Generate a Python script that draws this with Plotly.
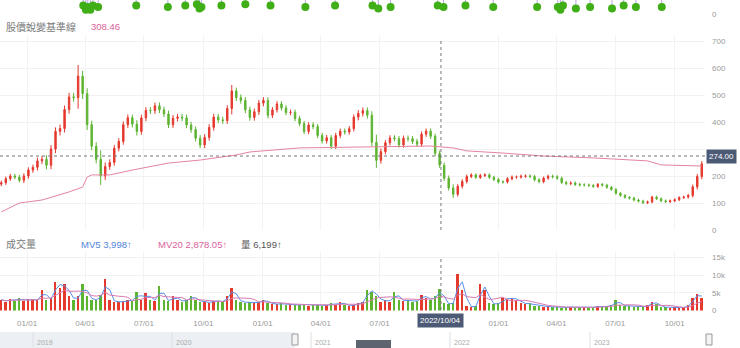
import pandas as pd
import numpy as np
import plotly.graph_objects as go

W, H = 740, 348
FONT = "Liberation Sans, Noto Sans CJK TC, sans-serif"

# ---------------- data ----------------
dates = pd.date_range("2020-11-22", periods=156, freq="7D")

close = [175, 190, 200, 196, 184, 200, 222, 232, 256, 262,
         240, 300, 365, 376, 446, 493, 490, 570, 505, 390,
         310, 262, 200, 235, 250, 303, 328, 390, 416, 392,
         365, 415, 443, 442, 460, 445, 430, 390, 414, 418,
         415, 389, 372, 340, 315, 343, 380, 418, 408, 405,
         450, 515, 490, 480, 445, 417, 438, 470, 480, 425,
         445, 467, 452, 435, 436, 413, 394, 365, 389, 383,
         350, 330, 342, 310, 350, 366, 363, 375, 418, 432,
         442, 425, 325, 258, 290, 323, 341, 338, 315, 340,
         338, 328, 318, 355, 366, 347, 284, 240, 192, 156,
         132, 162, 180, 198, 204, 195, 202, 204, 195, 187,
         178, 178, 190, 196, 196, 199, 200, 198, 186, 179,
         192, 199, 197, 192, 176, 172, 174, 169, 167, 167,
         165, 161, 169, 166, 158, 150, 136, 128, 121, 118,
         111, 107, 101, 104, 122, 116, 108, 105, 108, 112,
         120, 122, 128, 160, 198, 245]
first_open = 170

# estimated shadow length beyond the body, per week
wick = [8, 8, 8, 8, 8, 10, 10, 10, 12, 12,
        15, 15, 15, 15, 15, 15, 15, 41, 20, 20,
        15, 15, 33, 15, 12, 12, 12, 12, 12, 12,
        15, 12, 12, 12, 12, 12, 12, 12, 12, 12,
        12, 12, 12, 12, 12, 12, 12, 12, 12, 12,
        12, 22, 12, 12, 12, 12, 12, 12, 12, 12,
        10, 10, 10, 10, 10, 10, 10, 10, 10, 10,
        10, 10, 10, 10, 10, 10, 10, 10, 10, 12,
        12, 12, 15, 28, 12, 10, 10, 10, 10, 10,
        10, 10, 10, 10, 10, 10, 10, 10, 10, 10,
        13, 8, 8, 8, 6, 6, 6, 6, 6, 6,
        6, 6, 6, 6, 6, 6, 6, 6, 6, 6,
        6, 6, 6, 6, 6, 6, 6, 6, 6, 6,
        5, 5, 5, 5, 5, 5, 5, 5, 5, 5,
        5, 5, 5, 5, 5, 5, 5, 5, 5, 5,
        5, 5, 6, 8, 10, 10]

volume_k = [3.0, 2.5, 3.2, 2.8, 3.5, 2.6, 3.3, 2.9, 3.0, 5.9,
            3.0, 3.5, 8.2, 6.5, 7.4, 4.0, 3.0, 4.0, 7.4, 4.0,
            3.0, 3.0, 4.5, 8.8, 3.0, 2.5, 2.4, 2.6, 3.0, 2.8,
            5.3, 3.0, 5.0, 3.0, 2.8, 6.8, 3.0, 2.6, 4.0, 3.0,
            2.5, 3.0, 4.2, 3.0, 2.5, 2.4, 2.2, 2.8, 2.6, 2.5,
            4.0, 6.5, 3.0, 2.5, 2.2, 2.4, 2.0, 2.5, 3.0, 2.2,
            1.8, 1.8, 2.0, 1.6, 1.8, 1.5, 1.6, 1.8, 1.4, 1.5,
            1.6, 1.4, 1.5, 2.0, 1.6, 2.5, 1.5, 1.4, 1.6, 2.0,
            2.5, 5.9, 5.3, 4.0, 2.5, 3.0, 2.5, 5.3, 3.0, 2.8,
            3.0, 2.5, 2.8, 4.4, 3.5, 3.0, 4.0, 6.2, 2.0, 1.8,
            2.2, 10.3, 5.9, 1.2, 1.0, 1.3, 7.4, 5.9, 2.0, 1.8,
            2.0, 3.5, 3.2, 3.6, 3.0, 2.2, 1.8, 2.0, 1.4, 1.3,
            1.0, 1.2, 0.9, 1.0, 0.8, 1.0, 0.9, 0.8, 1.0, 0.9,
            0.8, 1.0, 1.2, 1.0, 1.3, 1.5, 2.9, 1.5, 1.2, 1.4,
            1.0, 1.2, 1.0, 1.5, 2.5, 1.8, 1.0, 0.9, 0.8, 0.9,
            0.8, 0.9, 1.5, 3.6, 4.8, 3.4]

# 股價蛻變基準線 (read at selected weeks)
base_idx = [0, 4, 9, 13, 15, 18, 19, 20, 24, 29, 37, 44, 52, 55, 66, 78,
            89, 95, 100, 103, 111, 120, 131, 143, 146, 155]
base_val = [67, 100, 111, 130, 141, 159, 196, 204, 204, 222, 248, 259, 278,
            289, 304, 307, 311, 311, 304, 293, 285, 274, 267, 256, 241, 237]

# signal dots of the panel above (cut off)
top_dates = ["2021-03-29", "2021-04-02", "2021-04-05", "2021-04-09", "2021-04-13",
             "2021-04-21", "2021-06-19", "2021-08-07", "2021-09-03", "2021-09-21",
             "2021-09-25", "2021-09-28", "2021-10-29", "2021-12-05", "2022-01-13",
             "2022-03-08", "2022-04-23", "2022-06-20", "2022-06-29", "2022-07-18",
             "2022-09-29", "2022-10-08", "2022-11-11", "2022-12-24", "2023-03-02",
             "2023-04-03", "2023-04-07", "2023-04-11", "2023-05-01", "2023-05-23",
             "2023-06-26", "2023-07-14", "2023-08-02", "2023-09-11"]
top_vals = [6, 3, 5, 3, 6, 5, 6, 5, 6, 7, 4, 5, 6, 7, 6,
            5, 6, 6, 4, 5, 6, 5, 6, 5, 5, 5, 3, 6, 4, 5,
            4, 6, 5, 5]

hover_date = "2022-10-04"
hover_price = 274.00
base_now = "308.46"
mv5_txt, mv20_txt, vol_txt = "3,998", "2,878.05", "6,199"

price_ticks = [0, 100, 200, 300, 400, 500, 600, 700]
vol_ticks = [0, 5000, 10000, 15000]
vol_ticktext = ["0", "5k", "10k", "15k"]
nav_years = ["2019", "2020", "2021", "2022", "2023"]

# ---------------- derived ----------------
open_ = [first_open] + close[:-1]
high = [max(o, c) + w for o, c, w in zip(open_, close, wick)]
low = [min(o, c) - w for o, c, w in zip(open_, close, wick)]
volume = [v * 1000 for v in volume_k]
vs = pd.Series(volume)
mv5 = vs.rolling(2, min_periods=1).mean()
mv20 = vs.rolling(6, min_periods=1).mean()

RED = "#e5392e"
GREEN = "#5db431"
vcolors = [RED if c >= o else GREEN for o, c in zip(open_, close)]

# quarter ticks; the one under the hover date label is covered there
qt = pd.date_range("2021-01-01", "2023-10-01", freq="QS")
hd = pd.Timestamp(hover_date)
x_tickvals = [d for d in qt if abs((d - hd).days) > 20]
price_ticktext = ["" if abs(t - hover_price) < 30 else str(t) for t in price_ticks]


def px(x):
    return x / W


def py(y):
    return 1 - y / H


XR = ["2020-11-20", "2023-11-17"]
XD = [0, px(705)]

fig = go.Figure()
fig.add_trace(go.Candlestick(
    x=dates, open=open_, high=high, low=low, close=close,
    increasing=dict(fillcolor=RED, line=dict(color=RED, width=1)),
    decreasing=dict(fillcolor=GREEN, line=dict(color=GREEN, width=1)),
    whiskerwidth=0, xaxis="x", yaxis="y", hoverinfo="skip"))
fig.add_trace(go.Scatter(
    x=dates[base_idx], y=base_val, mode="lines",
    line=dict(color="#e3849f", width=1), xaxis="x", yaxis="y", hoverinfo="skip"))
fig.add_trace(go.Bar(
    x=dates, y=volume, marker=dict(color=vcolors, line=dict(width=0)),
    width=3 * 86400000, xaxis="x2", yaxis="y2", hoverinfo="skip"))
fig.add_trace(go.Scatter(
    x=dates, y=mv5, mode="lines", line=dict(color="#5b8ee6", width=1),
    xaxis="x2", yaxis="y2", hoverinfo="skip"))
fig.add_trace(go.Scatter(
    x=dates, y=mv20, mode="lines", line=dict(color="#d97bb0", width=1),
    xaxis="x2", yaxis="y2", hoverinfo="skip"))
fig.add_trace(go.Scatter(
    x=top_dates, y=top_vals, mode="markers",
    marker=dict(color="#3fae17", size=8, line=dict(width=0)),
    error_y=dict(type="constant", value=12, symmetric=False, valueminus=0,
                 color="#b9a8e6", thickness=1, width=0),
    xaxis="x3", yaxis="y3", hoverinfo="skip"))

tickfont = dict(size=8, color="#9a9a9a", family=FONT)
fig.update_layout(
    width=W, height=H, margin=dict(l=0, r=0, t=0, b=0, pad=0), autosize=False,
    paper_bgcolor="white", plot_bgcolor="white", showlegend=False,
    font=dict(family=FONT), bargap=0, boxgap=0.55,
    xaxis=dict(domain=XD, range=XR, type="date", anchor="y",
               tickvals=x_tickvals, showticklabels=False, automargin=False,
               showgrid=True, gridcolor="#f3f3f3", zeroline=False,
               rangeslider=dict(visible=False), fixedrange=True),
    xaxis2=dict(domain=XD, range=XR, type="date", anchor="y2", matches="x",
                tickvals=x_tickvals, tickformat="%m/%d", automargin=False,
                showticklabels=True, tickfont=tickfont, ticks="",
                ticklabelstandoff=6,
                showgrid=True, gridcolor="#f3f3f3", zeroline=False, fixedrange=True),
    xaxis3=dict(domain=XD, range=XR, type="date", anchor="y3", matches="x",
                automargin=False,
                showticklabels=False, showgrid=False, zeroline=False, fixedrange=True),
    yaxis=dict(domain=[py(230), py(35)], range=[0, (230 - 35) / 0.27],
               side="right", anchor="x", tickvals=price_ticks, ticktext=price_ticktext,
               tickfont=tickfont, automargin=False,
               ticks="", ticklabelstandoff=6, showgrid=True, gridcolor="#f1f1f1",
               zeroline=False, fixedrange=True),
    yaxis2=dict(domain=[py(310.5), py(252)], range=[0, (310.5 - 252) / 3.533 * 1000],
                side="right", anchor="x2", tickvals=vol_ticks, ticktext=vol_ticktext,
                tickfont=tickfont, ticks="", ticklabelstandoff=6, automargin=False,
                showgrid=True, gridcolor="#f1f1f1", zeroline=False, fixedrange=True),
    yaxis3=dict(domain=[py(14), 1], range=[0, 10], side="right", anchor="x3",
                tickvals=[0], ticktext=["0"], tickfont=tickfont, ticks="",
                automargin=False,
                ticklabelstandoff=6, showgrid=False, zeroline=False, fixedrange=True),
)

shapes = []
# crosshair
shapes.append(dict(type="line", xref="paper", yref="y", x0=0, x1=px(705),
                   y0=hover_price, y1=hover_price,
                   line=dict(color="#777", width=1, dash="dot")))
shapes.append(dict(type="line", xref="x", yref="paper", x0=hover_date, x1=hover_date,
                   y0=py(230), y1=py(40), line=dict(color="#777", width=1, dash="dot")))
shapes.append(dict(type="line", xref="x", yref="paper", x0=hover_date, x1=hover_date,
                   y0=py(310), y1=py(256), line=dict(color="#777", width=1, dash="dot")))
# navigator
shapes.append(dict(type="rect", xref="paper", yref="paper", x0=0, x1=px(295),
                   y0=py(349), y1=py(332), fillcolor="#eceff3", line=dict(width=0),
                   layer="below"))
for xs in [33, 172, 311, 450, 590]:
    shapes.append(dict(type="line", xref="paper", yref="paper", x0=px(xs), x1=px(xs),
                       y0=py(349), y1=py(332), line=dict(color="#dcdfe4", width=1)))
for xs in [295, 709]:
    shapes.append(dict(type="rect", xref="paper", yref="paper", x0=px(xs - 3), x1=px(xs + 3),
                       y0=py(345), y1=py(334), fillcolor="#f4f4f4",
                       line=dict(color="#999", width=1)))
shapes.append(dict(type="rect", xref="paper", yref="paper", x0=px(356), x1=px(391),
                   y0=py(349), y1=py(340), fillcolor="#5d6470", line=dict(width=0)))
fig.update_layout(shapes=shapes)

ann = []


def label(x, y, text, color, size=9.5, anchor="left"):
    ann.append(dict(xref="paper", yref="paper", x=px(x), y=py(y), text=text,
                    showarrow=False, xanchor=anchor, yanchor="middle",
                    font=dict(size=size, color=color, family=FONT)))


label(4, 27, "股價蛻變基準線", "#7a7a7a", 10)
label(89, 27, base_now, "#d9639a", 9.5)
label(4, 244, "成交量", "#7a7a7a", 10)
label(79, 244, "MV5 " + mv5_txt + "↑", "#4f86d9", 9.5)
label(156, 244, "MV20 " + mv20_txt + "↑", "#d9639a", 9.5)
label(239, 244, "量 " + vol_txt + "↑", "#555555", 9.5)
for xs, yr in zip([35, 174, 313, 452, 592], nav_years):
    label(xs, 342.5, yr, "#aaaaaa", 7)

ann.append(dict(xref="paper", yref="y", x=px(706), y=hover_price,
                text=f"{hover_price:.2f}", showarrow=False, xanchor="left",
                yanchor="middle", bgcolor="#4d5a76", borderpad=2,
                font=dict(size=8, color="white", family=FONT)))
ann.append(dict(xref="x2", yref="paper", x=hover_date, y=py(320),
                text=hover_date.replace("-", "/"), showarrow=False, xanchor="center",
                yanchor="middle", bgcolor="#4d5a76", borderpad=2,
                font=dict(size=8, color="white", family=FONT)))
fig.update_layout(annotations=ann)

fig.write_html("out.html")
